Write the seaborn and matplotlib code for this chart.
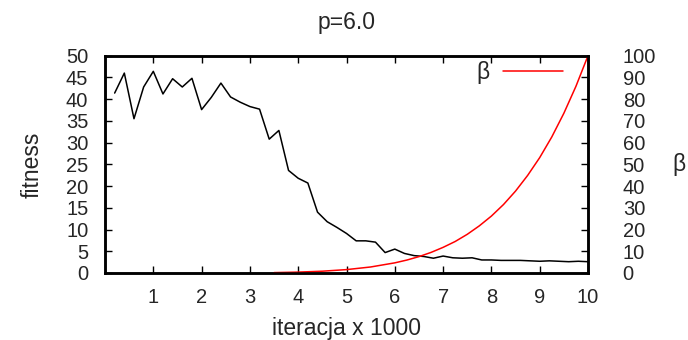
import matplotlib
matplotlib.use("Agg")
import matplotlib.pyplot as plt
import seaborn as sns
import pandas as pd

iter_x = [0.2, 0.4, 0.6, 0.8, 1.0, 1.2, 1.4, 1.6, 1.8, 2.0,
          2.2, 2.4, 2.6, 2.8, 3.0, 3.2, 3.4, 3.6, 3.8, 4.0,
          4.2, 4.4, 4.6, 4.8, 5.0, 5.2, 5.4, 5.6, 5.8, 6.0,
          6.2, 6.4, 6.6, 6.8, 7.0, 7.2, 7.4, 7.6, 7.8, 8.0,
          8.2, 8.4, 8.6, 8.8, 9.0, 9.2, 9.4, 9.6, 9.8, 10.0]
fitness = [41.4, 46.0, 35.5, 42.8, 46.4, 41.2, 44.7, 42.8, 44.8, 37.6,
           40.4, 43.7, 40.5, 39.3, 38.3, 37.7, 30.8, 32.8, 23.6, 21.8,
           20.7, 14.0, 11.8, 10.5, 9.1, 7.4, 7.4, 7.1, 4.7, 5.5,
           4.5, 4.0, 3.8, 3.4, 3.9, 3.5, 3.4, 3.5, 3.0, 3.0,
           2.9, 2.9, 2.9, 2.8, 2.7, 2.8, 2.7, 2.6, 2.7, 2.6]

beta_x = [3.5, 4.0, 4.5, 5.0, 5.5, 6.0,
          6.25, 6.5, 6.75, 7.0, 7.25, 7.5, 7.75, 8.0, 8.25, 8.5,
          8.75, 9.0, 9.25, 9.5, 9.75, 10.0]
beta = [0.18, 0.41, 0.83, 1.56, 2.77, 4.67,
        5.96, 7.54, 9.47, 11.8, 14.5, 17.8, 21.7, 26.2, 31.5, 37.7,
        44.9, 53.1, 62.6, 73.5, 85.9, 100.0]

x_ticks = [1, 2, 3, 4, 5, 6, 7, 8, 9, 10]
y_ticks = [0, 5, 10, 15, 20, 25, 30, 35, 40, 45, 50]
y2_ticks = [0, 10, 20, 30, 40, 50, 60, 70, 80, 90, 100]

sns.set_theme(style="white")
plt.rcParams['font.family'] = ['Liberation Sans', 'DejaVu Sans']
FS_T = 14.5
FS_L = 16.5

fig = plt.figure(figsize=(6.88, 3.4), dpi=100)
ax = fig.add_axes([105/688, 1-273/340, (588-105)/688, (273-55.7)/340])
ax2 = ax.twinx()

df1 = pd.DataFrame({"x": iter_x, "fitness": fitness})
df2 = pd.DataFrame({"x": beta_x, "beta": beta})
sns.lineplot(data=df1, x="x", y="fitness", ax=ax, color="black", lw=1.1)
sns.lineplot(data=df2, x="x", y="beta", ax=ax2, color="#ff0000", lw=1.1, label="β")

ax.set_xlim(0, 10)
ax.set_ylim(0, 50)
ax2.set_ylim(0, 100)
ax.set_xticks(x_ticks)
ax.set_yticks(y_ticks)
ax2.set_yticks(y2_ticks)
ax.set_xticklabels([str(t) for t in x_ticks], fontsize=FS_T)
ax.set_yticklabels([str(t) for t in y_ticks], fontsize=FS_T)
ax2.set_yticklabels([str(t) for t in y2_ticks], fontsize=FS_T)

ax.tick_params(axis="x", direction="in", top=True, bottom=True, length=5, width=1, pad=11, color="black")
ax.tick_params(axis="y", direction="in", left=True, right=False, length=5, width=1, pad=12, color="black")
ax2.tick_params(axis="y", direction="in", right=True, left=False, length=5, width=1, pad=25, color="black")

for a in (ax, ax2):
    for s in a.spines.values():
        s.set_linewidth(1.8)
        s.set_color("black")
        s.set_zorder(5)

ax.set_xlabel("iteracja x 1000", fontsize=FS_L, labelpad=7)
ax.set_ylabel("fitness", fontsize=FS_L, labelpad=16)
ax2.set_ylabel("β", fontsize=FS_L, rotation=0, labelpad=12, va="center", ha="left")
ax.set_title("p=6.0", fontsize=FS_L, pad=19)

leg = ax2.legend(loc="upper right", frameon=False, fontsize=FS_L, markerfirst=False,
                 handlelength=2.6, handletextpad=0.6, borderaxespad=0, borderpad=0,
                 bbox_to_anchor=(0.948, 0.975))

fig.savefig("out.png", dpi=100)
